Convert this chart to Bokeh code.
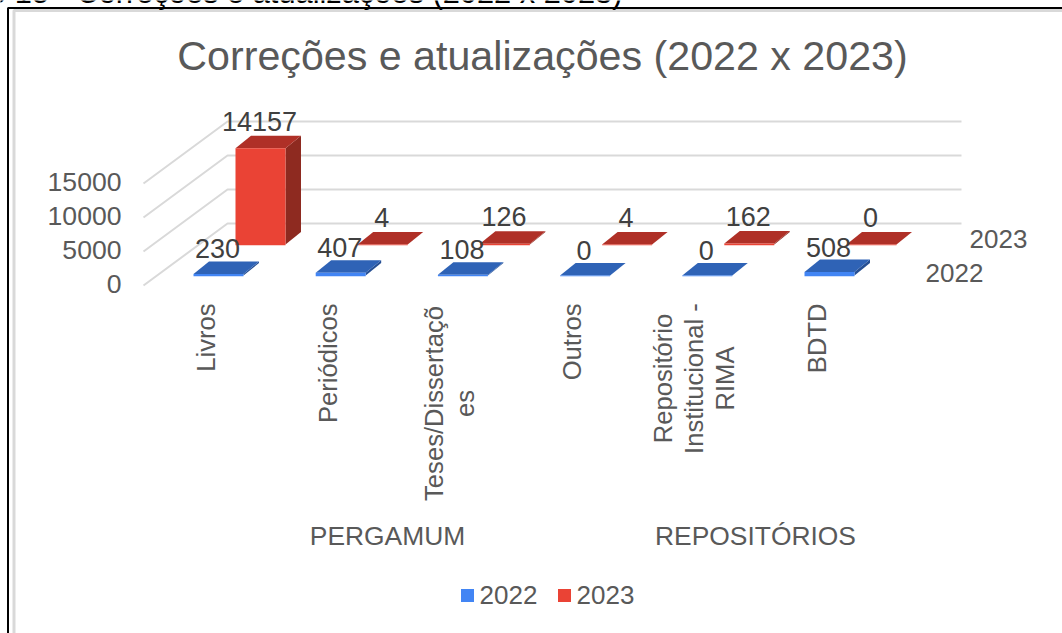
from bokeh.plotting import figure
from bokeh.models import Range1d
from bokeh.core.properties import value
from bokeh.embed import file_html
from bokeh.resources import INLINE
import math

# ---- data
categories = ["Livros", "Periódicos", "Teses/Dissertaçõ\nes", "Outros",
              "Repositório\nInstitucional -\nRIMA", "BDTD"]
groups = ["PERGAMUM", "REPOSITÓRIOS"]
series_names = ["2022", "2023"]
values_2022 = [230, 407, 108, 0, 0, 508]
values_2023 = [14157, 4, 126, 4, 162, 0]
value_ticks = [0, 5000, 10000, 15000]
title_text = "Correções e atualizações (2022 x 2023)"
caption_text = "Gráfico 15 - Correções e atualizações (2022 x 2023)"

FONT = value("Liberation Sans")
GREY = "#595959"
W, H = 1062, 633

p = figure(width=W, height=H, x_range=Range1d(0, W), y_range=Range1d(H, 0),
           output_backend="svg", toolbar_location=None, min_border=0,
           outline_line_color=None, background_fill_color="white",
           styles={"position": "absolute", "left": "0", "top": "0"})
p.xaxis.visible = False
p.yaxis.visible = False
p.grid.visible = False

# projection of the 3-D chart
CAT0, CAT_STEP = 193.0, 122.2
SER_DX, SER_DY = 42.0, -31.0
FLOOR_Y = 275.0
PX_PER_UNIT = 34.0 / 5000
BAR_W, DEPTH_X, DEPTH_Y = 50.0, 15.5, -12.5


def front(cat, ser, v):
    return CAT0 + CAT_STEP * cat + SER_DX * ser, FLOOR_Y + SER_DY * ser - v * PX_PER_UNIT


# page frame
p.line([7.5, 7.5, W], [H, 7.5, 7.5], line_color="black", line_width=2)
p.line([13.5, 13.5, W], [H, 10, 10], line_color="#d9d9d9", line_width=3)

# caption cut by the top of the page
p.text([622], [-8], text=[caption_text], text_align="right", text_baseline="middle",
       text_font=FONT, text_font_size="30.8px", text_color="black")

# title
p.text([542], [55], text=[title_text], text_align="center", text_baseline="middle",
       text_font=FONT, text_font_size="41.2px", text_color=GREY)

# wall grid
for t in value_ticks:
    dy = t * PX_PER_UNIT
    p.line([143, 227, 961], [285 - dy, 223 - dy, 223 - dy], line_color="#d9d9d9", line_width=2)
p.text([121] * len(value_ticks), [283.5 - t * PX_PER_UNIT for t in value_ticks],
       text=[str(t) for t in value_ticks], text_align="right", text_baseline="middle",
       text_font=FONT, text_font_size="26.6px", text_color=GREY)

# bars, back series first
palette = [("#4285f4", "#2f63b6", "#264f93"), ("#ea4335", "#af3027", "#8e2a20")]
all_values = [values_2022, values_2023]
for ser in (1, 0):
    c_front, c_top, c_side = palette[ser]
    for cat, v in enumerate(all_values[ser]):
        x, yb = front(cat, ser, 0)
        _, yt = front(cat, ser, v)
        p.patch([x + BAR_W, x + BAR_W + DEPTH_X, x + BAR_W + DEPTH_X, x + BAR_W],
                [yb, yb + DEPTH_Y, yt + DEPTH_Y, yt], fill_color=c_side, line_color=None)
        p.patch([x, x + DEPTH_X, x + BAR_W + DEPTH_X, x + BAR_W],
                [yt, yt + DEPTH_Y, yt + DEPTH_Y, yt], fill_color=c_top, line_color=None)
        p.patch([x, x + BAR_W, x + BAR_W, x], [yb + 0.7, yb + 0.7, yt, yt],
                fill_color=c_front, line_color=None)

# value labels
for ser in (0, 1):
    lx, ly, lt = [], [], []
    for cat, v in enumerate(all_values[ser]):
        x, yt = front(cat, ser, v)
        lx.append(x + 24)
        ly.append(yt - 25 - 2 * ser)
        lt.append(str(v))
    p.text(lx, ly, text=lt, text_align="center", text_baseline="middle",
           text_font=FONT, text_font_size="27px", text_color="#404040")

# depth axis labels
p.text([969, 925], [238, 272], text=[series_names[1], series_names[0]],
       text_align="left", text_baseline="middle", text_font=FONT,
       text_font_size="26px", text_color=GREY)

# category labels: one-liners end at the axis, wrapped ones are centred on their longest line
LABEL_TOP = 303
BLOCK_CENTRE = {2: 403, 4: 378}
sx, st, cx, cy, ct = [], [], [], [], []
for cat, name in enumerate(categories):
    lines = name.split("\n")
    for i, line in enumerate(lines):
        x = 205 + CAT_STEP * cat + 31.0 * (i - (len(lines) - 1) / 2)
        if len(lines) == 1:
            sx.append(x)
            st.append(line)
        else:
            cx.append(x)
            cy.append(BLOCK_CENTRE[cat])
            ct.append(line)
p.text(sx, [LABEL_TOP] * len(sx), text=st, angle=math.pi / 2, text_align="right",
       text_baseline="middle", text_font=FONT, text_font_size="25.6px", text_color=GREY)
p.text(cx, cy, text=ct, angle=math.pi / 2, text_align="center",
       text_baseline="middle", text_font=FONT, text_font_size="25.6px", text_color=GREY)

# group labels
p.text([387, 755], [535, 535], text=groups, text_align="center", text_baseline="middle",
       text_font=FONT, text_font_size="26.4px", text_color=GREY)

# legend
p.rect([467, 564], [595, 595], width=13, height=13, fill_color=[palette[0][0], palette[1][0]],
       line_color=None)
p.text([479, 576], [594, 594], text=series_names, text_align="left", text_baseline="middle",
       text_font=FONT, text_font_size="26px", text_color=GREY)

open("out.html", "w").write(file_html(p, INLINE))
